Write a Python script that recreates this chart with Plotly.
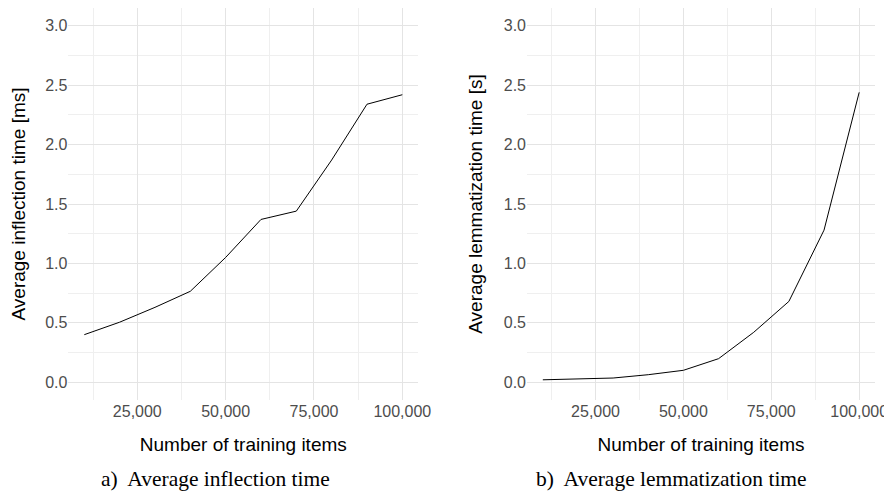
import plotly.graph_objects as go

training_items = [10000, 20000, 30000, 40000, 50000, 60000, 70000, 80000, 90000, 100000]
inflection_ms = [0.40, 0.505, 0.63, 0.765, 1.05, 1.37, 1.44, 1.87, 2.34, 2.42]
lemmatization_s = [0.02, 0.028, 0.035, 0.063, 0.10, 0.198, 0.42, 0.68, 1.28, 2.44]

x_tickvals = [25000, 50000, 75000, 100000]
y_tickvals = [0.0, 0.5, 1.0, 1.5, 2.0, 2.5, 3.0]

fig = go.Figure()
fig.add_trace(go.Scatter(x=training_items, y=inflection_ms, mode="lines",
                         line=dict(color="black", width=1), xaxis="x", yaxis="y"))
fig.add_trace(go.Scatter(x=training_items, y=lemmatization_s, mode="lines",
                         line=dict(color="black", width=1), xaxis="x2", yaxis="y2"))

# page body has an 8px margin: figure drawn at (8, 8); size chosen to fill the window
OFF = 8
W, H = 892 - OFF, 493 - OFF
tickfont = dict(family="Liberation Sans, Arial", size=16, color="#4D4D4D")
titlefont = dict(family="Liberation Sans, Arial", size=19, color="black")

def px_x(v):
    return (v - OFF) / W

def px_y(v):
    return (H - (v - OFF)) / H

def xax(domain, anchor):
    return dict(domain=domain, anchor=anchor, range=[5500, 104500], automargin=False,
                tickvals=x_tickvals, tickformat=",d", tickfont=tickfont,
                showgrid=True, gridcolor="#E4E4E4", gridwidth=1.2,
                zeroline=False, showline=False, ticks="",
                minor=dict(tickvals=[12500, 37500, 62500, 87500], showgrid=True,
                           gridcolor="#EFEFEF", gridwidth=0.7),
                title=dict(text="Number of training items", font=titlefont, standoff=18))

def yax(domain, anchor, title, standoff):
    return dict(domain=domain, anchor=anchor, range=[-0.15, 3.15], automargin=False,
                tickvals=y_tickvals, tickformat=".1f", tickfont=tickfont,
                showgrid=True, gridcolor="#E4E4E4", gridwidth=1.2,
                zeroline=False, showline=False, ticks="",
                minor=dict(tickvals=[0.25, 0.75, 1.25, 1.75, 2.25, 2.75], showgrid=True,
                           gridcolor="#EFEFEF", gridwidth=0.7),
                title=dict(text=title, font=titlefont, standoff=standoff))

ydom = [px_y(400), min(1.0, px_y(5))]
fig.update_layout(
    width=W, height=H,
    margin=dict(l=0, r=0, t=0, b=0, autoexpand=False),
    paper_bgcolor="white", plot_bgcolor="white",
    showlegend=False,
    xaxis=xax([px_x(68.4), px_x(418.2)], "y"),
    yaxis=yax(ydom, "x", "Average inflection time [ms]", 15),
    xaxis2=xax([px_x(527), px_x(875)], "y2"),
    yaxis2=yax(ydom, "x2", "Average lemmatization time [s]", 16),
    annotations=[
        dict(text="a)  Average inflection time", x=px_x(215), y=px_y(479),
             xref="paper", yref="paper", showarrow=False, xanchor="center", yanchor="middle",
             font=dict(family="Liberation Serif, DejaVu Serif", size=21.5, color="black")),
        dict(text="b)  Average lemmatization time", x=px_x(671.7), y=px_y(479),
             xref="paper", yref="paper", showarrow=False, xanchor="center", yanchor="middle",
             font=dict(family="Liberation Serif, DejaVu Serif", size=21.5, color="black")),
    ],
)

fig.write_html("out.html")
